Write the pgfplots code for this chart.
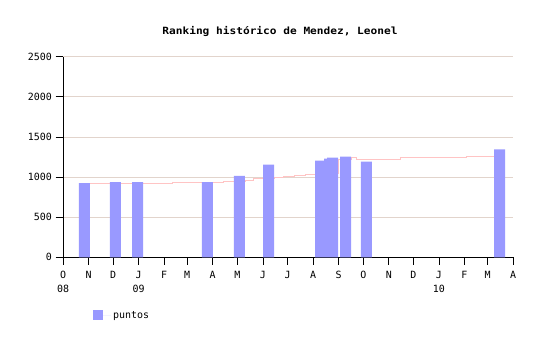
\documentclass[border=0pt]{standalone}
\usepackage{pgfplots}
\pgfplotsset{compat=1.18}
\usepackage{fontspec}
\setmainfont{DejaVu Sans Mono}
\newfontfamily\titlefont[FakeStretch=1.12]{DejaVu Sans Mono Bold}
\definecolor{barblue}{RGB}{153,153,255}
\definecolor{linepink}{RGB}{255,196,196}
\definecolor{gridc}{RGB}{226,212,204}
\begin{document}
\begin{tikzpicture}
\path[use as bounding box] (0bp,0bp) rectangle (540bp,340bp);
\node[font=\titlefont\fontsize{10}{12}\selectfont] at (280bp,309bp) {Ranking histórico de Mendez, Leonel};
\begin{axis}[
  at={(63bp,82.7bp)}, anchor=south west,
  scale only axis, width=450bp, height=200.6bp,
  xmin=0, xmax=547, ymin=0, ymax=2500,
  axis x line=bottom, axis y line=left,
  axis line style={-, black, line width=0.8pt},
  tick style={black, line width=0.8pt},
  tick align=outside, major tick length=7.5bp,
  ytick={0,500,1000,1500,2000,2500},
  ymajorgrids, major grid style={gridc, line width=0.8pt},
  xtick={0,31,61,92,123,151,182,212,243,273,304,335,365,396,426,457,488,516,547},
  xticklabels={{O\\08},N,D,{J\\09},F,M,A,M,J,J,A,S,O,N,D,{J\\10},F,M,A},
  xticklabel style={align=center, yshift=-2.5bp, font=\fontsize{10}{14.5}\selectfont},
  yticklabel style={font=\fontsize{10}{12}\selectfont},
  /pgf/number format/assume math mode=true,
  /pgf/number format/set thousands separator={},
  legend style={at={(axis description cs:0.06,-0.29)}, anchor=west, draw=none, fill=none, font=\fontsize{10}{12}\selectfont},
  legend image code/.code={\path (0bp,0bp) -- (18bp,0bp); \fill[barblue] (0bp,-5bp) rectangle (10bp,5bp);},
]
\addplot[const plot, linepink, line width=0.8pt, forget plot] coordinates {
(20,925) (132.5,937) (194.5,950) (221.2,962) (231,978) (256.5,998) (267.4,1012)
(280.8,1025) (294.2,1037) (306.3,1050) (334.3,1217) (350,1239) (356.1,1226)
(409.6,1239) (489.8,1252) (523.9,1252)};
\addplot[ybar, bar width=13.37, bar shift=0pt, fill=barblue, draw=none] coordinates {
(26.1,925) (63.8,938) (90.6,938) (175.6,936) (214.5,1016) (249.8,1155)
(313,1205) (324,1230) (327.6,1243) (343.4,1255) (368.9,1193) (530.6,1344)};
\addlegendentry{puntos}
\end{axis}
\end{tikzpicture}
\end{document}
